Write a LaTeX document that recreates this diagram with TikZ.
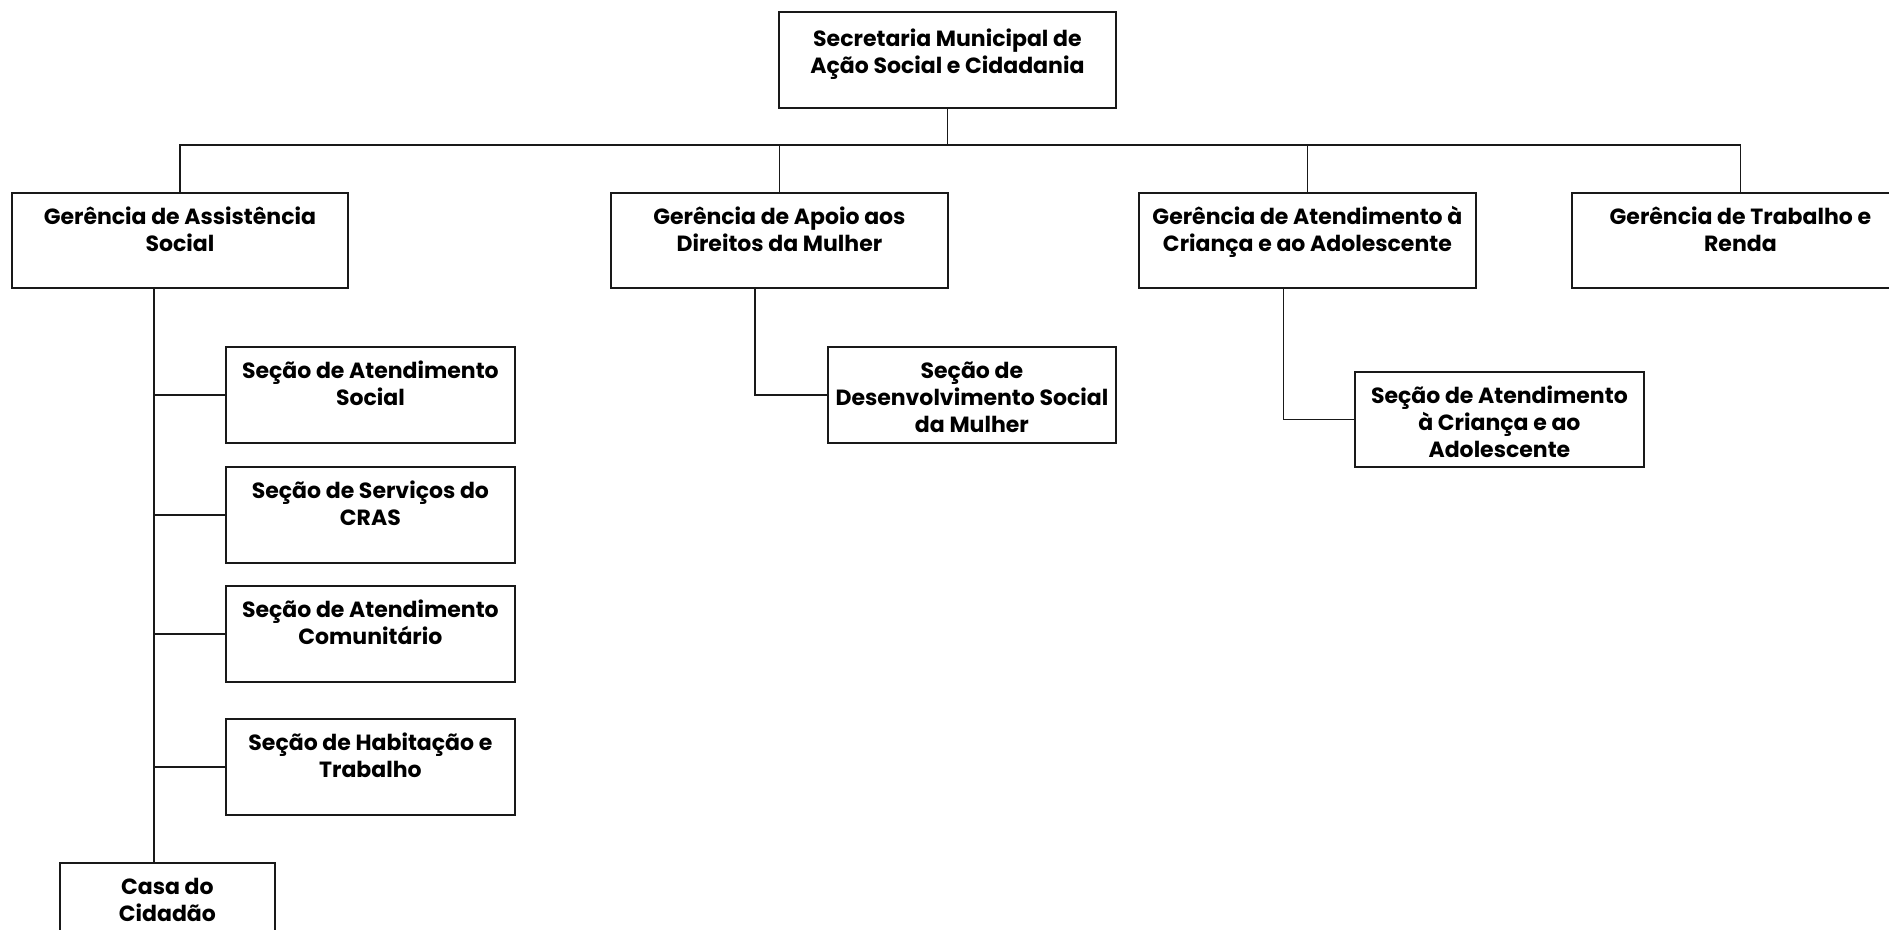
\documentclass[tikz,border=0pt]{standalone}
\usepackage{fontspec}
\setmainfont{Poppins}
\newcommand\bxtext[3]{\parbox[c][#2][t]{#1}{\centering\rule{0pt}{32pt}#3\par}}
\begin{document}
\begin{tikzpicture}[x=1pt,y=-1pt,
  box/.style={draw=black!90, line width=1.8pt, rectangle, inner sep=0pt, anchor=north west,
    font=\fontsize{22}{27}\selectfont\bfseries},
  conn/.style={draw=black!90, line width=1.8pt}]
\useasboundingbox (0,0) rectangle (1889,929);
\clip (0,0) rectangle (1889,929);
\fill[white] (0,0) rectangle (1889,929);
% top
\node[box] (top) at (778,11) {\bxtext{337pt}{96pt}{\rule{0pt}{35pt}Secretaria Municipal de\\Ação Social e Cidadania}};
% level 2
\node[box] (gas) at (11,192) {\bxtext{336pt}{95pt}{Gerência de Assistência\\Social}};
\node[box] (gap) at (610,192) {\bxtext{337pt}{95pt}{Gerência de Apoio aos\\Direitos da Mulher}};
\node[box] (gat) at (1138,192) {\bxtext{337pt}{95pt}{Gerência de Atendimento à\\Criança e ao Adolescente}};
\node[box] (gtr) at (1571,192) {\bxtext{337pt}{95pt}{Gerência de Trabalho e\\Renda}};
% sections of AS
\node[box] (s1) at (225,346) {\bxtext{289pt}{96pt}{Seção de Atendimento\\Social}};
\node[box] (s2) at (225,466) {\bxtext{289pt}{96pt}{Seção de Serviços do\\CRAS}};
\node[box] (s3) at (225,585) {\bxtext{289pt}{96pt}{Seção de Atendimento\\Comunitário}};
\node[box] (s4) at (225,718) {\bxtext{289pt}{96pt}{Seção de Habitação e\\Trabalho}};
\node[box] (casa) at (59,862) {\bxtext{215pt}{96pt}{Casa do\\Cidadão}};
% other sections
\node[box] (sdm) at (827,346) {\bxtext{288pt}{96pt}{Seção de\\Desenvolvimento Social\\da Mulher}};
\node[box] (sac) at (1354,371) {\bxtext{289pt}{95pt}{Seção de Atendimento\\à Criança e ao\\Adolescente}};
% connectors
\coordinate (bus) at ([yshift=-36pt]top.south);
\draw[conn] (top.south) -- (bus);
\draw[conn] (gas.north) |- (bus);
\draw[conn] (gap.north) |- (bus);
\draw[conn] (gat.north) |- (bus);
\draw[conn] (gtr.north) |- (bus);
\coordinate (asv) at ([xshift=-26pt]gas.south);
\draw[conn] (asv) -- (asv |- casa.north);
\draw[conn] (s1.west) -- (s1.west -| asv);
\draw[conn] (s2.west) -- (s2.west -| asv);
\draw[conn] (s3.west) -- (s3.west -| asv);
\draw[conn] (s4.west) -- (s4.west -| asv);
\draw[conn] ([xshift=-24.5pt]gap.south) |- (sdm.west);
\draw[conn] ([xshift=-24pt]gat.south) |- (sac.west);
\end{tikzpicture}
\end{document}
